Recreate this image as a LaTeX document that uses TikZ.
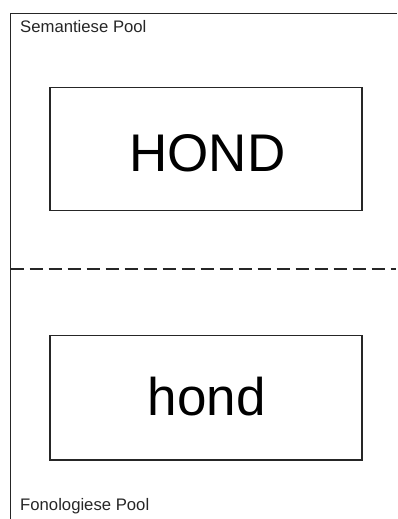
\documentclass[tikz,border=0pt]{standalone}
\usepackage{fontspec}
\setmainfont{Liberation Sans}
\begin{document}
\begin{tikzpicture}[x=1pt,y=1pt,
  frame/.style={line width=1.8pt, black!85},
  wordbox/.style={draw, line width=1.5pt, black!85},
  poollabel/.style={anchor=base west, inner sep=0pt, font=\fontsize{16.7}{19}\selectfont, text=black!85},
  bigword/.style={anchor=base, inner sep=0pt, font=\fontsize{53}{60}\selectfont}]
\useasboundingbox (0,0) rectangle (397,-519);
\coordinate (tl) at (10.5,-13.5);
\coordinate (tr) at (397,-13.5);
\coordinate (bl) at (10.5,-519);
\coordinate (dl) at (10.5,-269);
\coordinate (dr) at (396,-269);
\draw[frame] (tr) -- (tl) -- (bl);
\draw[line width=1.7pt, black!85, dash pattern=on 13pt off 6pt] (dl) -- (dr);
\draw[wordbox] (50,-87.3) rectangle (362,-210.7);
\draw[wordbox] (50,-335.7) rectangle (362,-460);
\node[bigword] (hondup) at (207.5,-171.5) {HOND};
\node[bigword] (hondlow) at (206.7,-415) {hond};
\node[poollabel] (sem) at (20,-32.7) {Semantiese Pool};
\node[poollabel] (fon) at (20,-510) {Fonologiese Pool};
\end{tikzpicture}
\end{document}
